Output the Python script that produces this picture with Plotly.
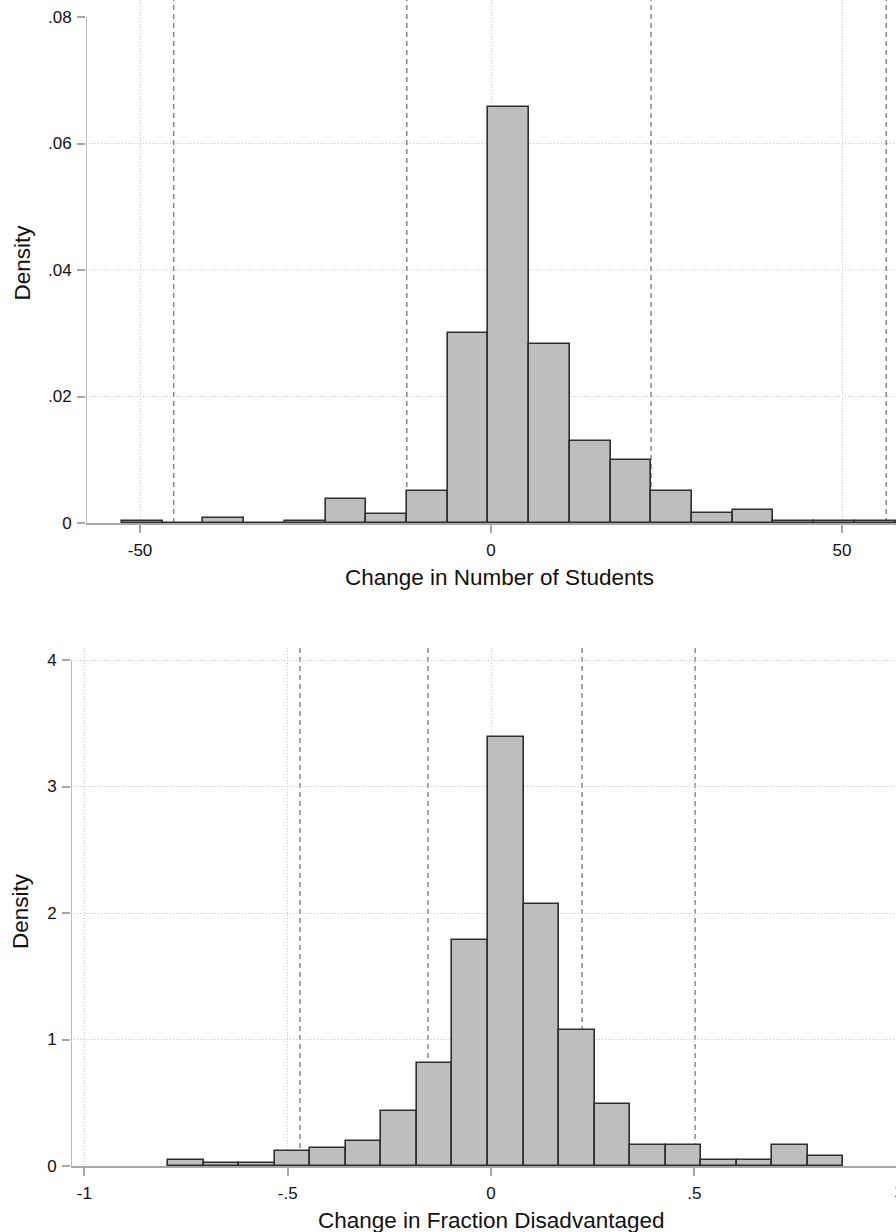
import plotly.graph_objects as go

# ---------------- DATA ----------------
# Top panel: Change in Number of Students
students_bin_start = -52.56
students_bin_width = 5.80
students_density = [0.00036, 0.0, 0.00074, 0.0, 0.00036, 0.00375, 0.0015, 0.00506,
                    0.0301, 0.0658, 0.02836, 0.01297, 0.00991, 0.00506, 0.00153,
                    0.0020, 0.00036, 0.00036, 0.00036]
students_vlines = [-45.2, -12.0, 22.8, 56.3]
students_xticks = [-50, 0, 50]
students_xtick_labels = ["-50", "0", "50"]
students_yticks = [0, 0.02, 0.04, 0.06, 0.08]
students_ytick_labels = ["0", ".02", ".04", ".06", ".08"]
students_ygrid = [0.02, 0.04, 0.06]

# Bottom panel: Change in Fraction Disadvantaged
frac_bin_start = -0.794
frac_bin_width = 0.0874
frac_density = [0.051, 0.025, 0.025, 0.115, 0.141, 0.199, 0.433, 0.816, 1.785,
                3.393, 2.075, 1.079, 0.494, 0.170, 0.170, 0.051, 0.051, 0.170, 0.083]
frac_vlines = [-0.470, -0.155, 0.224, 0.502]
frac_xticks = [-1, -0.5, 0, 0.5, 1]
frac_xtick_labels = ["-1", "-.5", "0", ".5", "1"]
frac_yticks = [0, 1, 2, 3, 4]
frac_ytick_labels = ["0", "1", "2", "3", "4"]

# ---------------- STYLE / LAYOUT ----------------
W, H, B = 896, 1232, 66
PH = H - B
FONT = "Liberation Sans, Arial, sans-serif"
BAR_FILL = "#bebebe"
BAR_LINE = "#2e2e2e"
AXIS_COL = "#a8a8a8"
GRID_COL = "#c8c8c8"
VLINE_COL = "#888888"
TXT = "#111111"
TICKFONT = dict(family=FONT, size=17, color=TXT)
TITLEFONT = dict(family=FONT, size=22.5, color=TXT)

top_bottom_px, top_top_px = 523, 0
bot_top_px, bot_bottom_px = 648, PH


def centers(start, width, n):
    return [start + width * (i + 0.5) for i in range(n)]


fig = go.Figure()
fig.add_trace(go.Bar(
    x=centers(students_bin_start, students_bin_width, len(students_density)),
    y=students_density, width=[students_bin_width] * len(students_density),
    marker=dict(color=BAR_FILL, line=dict(color=BAR_LINE, width=1.6)),
    xaxis="x", yaxis="y", showlegend=False, hoverinfo="skip"))
fig.add_trace(go.Bar(
    x=centers(frac_bin_start, frac_bin_width, len(frac_density)),
    y=frac_density, width=[frac_bin_width] * len(frac_density),
    marker=dict(color=BAR_FILL, line=dict(color=BAR_LINE, width=1.6)),
    xaxis="x2", yaxis="y2", showlegend=False, hoverinfo="skip"))

common_x = dict(ticks="outside", ticklen=8, tickwidth=1.5, tickcolor=AXIS_COL,
                showline=True, linecolor=AXIS_COL, linewidth=1.5,
                showgrid=True, gridcolor=GRID_COL, gridwidth=1, griddash="1px,2px",
                zeroline=False, tickfont=TICKFONT, fixedrange=True, ticklabelstandoff=3)
common_y = dict(ticks="outside", ticklen=8, tickwidth=1.5, tickcolor=AXIS_COL,
                showline=False, zeroline=False, tickfont=TICKFONT, fixedrange=True,
                ticklabelstandoff=2)

px_per_unit_top_x = 7.02
px_per_unit_bot_x = 406.6
zero_px = 491

fig.update_layout(
    width=W, height=H, margin=dict(l=0, r=0, t=0, b=B),
    paper_bgcolor="white", plot_bgcolor="white", bargap=0, barmode="overlay",
    xaxis=dict(common_x, domain=[86 / W, 1], anchor="y",
               range=[(86 - zero_px) / px_per_unit_top_x, (W - zero_px) / px_per_unit_top_x],
               tickvals=students_xticks, ticktext=students_xtick_labels),
    yaxis=dict(common_y, domain=[(PH - top_bottom_px) / PH, 1], anchor="x",
               range=[0, (top_bottom_px - top_top_px) / 126.5 * 0.02],
               tickvals=students_yticks, ticktext=students_ytick_labels, showgrid=False),
    xaxis2=dict(common_x, domain=[71 / W, 1], anchor="y2",
                range=[(71 - zero_px) / px_per_unit_bot_x, (W - zero_px) / px_per_unit_bot_x],
                tickvals=frac_xticks, ticktext=frac_xtick_labels),
    yaxis2=dict(common_y, domain=[0, (PH - bot_top_px) / PH], anchor="x2",
                range=[0, (bot_bottom_px - bot_top_px) / 126.5],
                tickvals=frac_yticks, ticktext=frac_ytick_labels,
                showgrid=True, gridcolor=GRID_COL, gridwidth=1, griddash="1px,2px"),
)

shapes = []
# horizontal grid for top panel (no grid at the top tick, as in the reference)
for g in students_ygrid:
    shapes.append(dict(type="line", xref="x", yref="y",
                       x0=(86 - zero_px) / px_per_unit_top_x, x1=(W - zero_px) / px_per_unit_top_x,
                       y0=g, y1=g,
                       line=dict(color=GRID_COL, width=1, dash="1px,2px"), layer="below"))
# dashed reference lines
top_ymax = (top_bottom_px - top_top_px) / 126.5 * 0.02
bot_ymax = (bot_bottom_px - bot_top_px) / 126.5
for v in students_vlines:
    shapes.append(dict(type="line", xref="x", yref="y", x0=v, x1=v, y0=0, y1=top_ymax,
                       line=dict(color=VLINE_COL, width=1.5, dash="5px,4px"), layer="below"))
for v in frac_vlines:
    shapes.append(dict(type="line", xref="x2", yref="y2", x0=v, x1=v, y0=0, y1=bot_ymax,
                       line=dict(color=VLINE_COL, width=1.5, dash="5px,4px"), layer="below"))
# y axis lines spanning only up to the top tick
shapes.append(dict(type="line", xref="x", yref="y",
                   x0=(86 - zero_px) / px_per_unit_top_x, x1=(86 - zero_px) / px_per_unit_top_x,
                   y0=0, y1=students_yticks[-1], line=dict(color=AXIS_COL, width=1.5)))
shapes.append(dict(type="line", xref="x2", yref="y2",
                   x0=(71 - zero_px) / px_per_unit_bot_x, x1=(71 - zero_px) / px_per_unit_bot_x,
                   y0=0, y1=frac_yticks[-1], line=dict(color=AXIS_COL, width=1.5)))
fig.update_layout(shapes=shapes)

annotations = [
    dict(text="Change in Number of Students", xref="paper", yref="paper",
         x=499 / W, y=(PH - 577) / PH, xanchor="center", yanchor="middle",
         showarrow=False, font=TITLEFONT),
    dict(text="Change in Fraction Disadvantaged", xref="paper", yref="paper",
         x=491.5 / W, y=(PH - 1220) / PH, xanchor="center", yanchor="middle",
         showarrow=False, font=TITLEFONT),
    dict(text="Density", xref="paper", yref="paper", x=22 / W, y=(PH - 262.5) / PH,
         xanchor="center", yanchor="middle", textangle=-90, showarrow=False, font=TITLEFONT),
    dict(text="Density", xref="paper", yref="paper", x=20 / W, y=(PH - 911) / PH,
         xanchor="center", yanchor="middle", textangle=-90, showarrow=False, font=TITLEFONT),
    # the "1" tick label sits just past the right edge (cropped in the reference)
    dict(text=frac_xtick_labels[-1], xref="paper", yref="paper", x=898 / W,
         y=(PH - 1191) / PH, xanchor="center", yanchor="middle", showarrow=False,
         font=TICKFONT),
]
fig.update_layout(annotations=annotations)

fig.write_html("out.html", config={"displayModeBar": False},
               post_script="document.body.style.margin='0';")
